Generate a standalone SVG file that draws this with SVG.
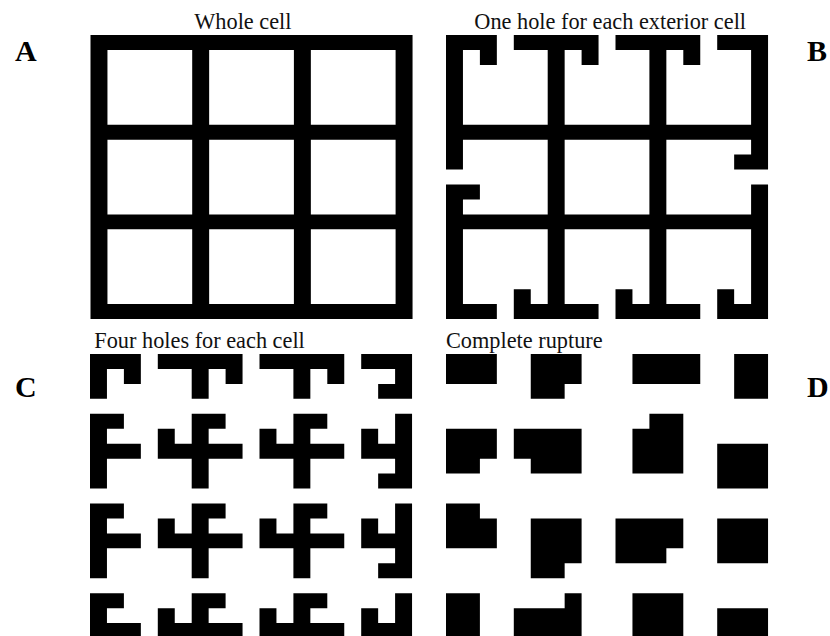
<svg xmlns="http://www.w3.org/2000/svg" width="830" height="636" viewBox="0 0 830 636">
<style>
.t{font-family:"Liberation Serif","Times New Roman",serif;font-size:22.3px;fill:#111}
.l{font-family:"Liberation Serif","Times New Roman",serif;font-size:30px;font-weight:bold;fill:#000}
.s{fill:#000}
</style>
<rect width="830" height="636" fill="#fff"/>

<g id="labels">
<text class="l" x="15" y="61">A</text>
<text class="l" x="807" y="61">B</text>
<text class="l" x="15" y="397">C</text>
<text class="l" x="807" y="397">D</text>
</g>

<g id="titles">
<text class="t" x="194.3" y="29.3">Whole cell</text>
<text class="t" x="474.3" y="29.3">One hole for each exterior cell</text>
<text class="t" x="94.3" y="347.7">Four holes for each cell</text>
<text class="t" x="446" y="347.7">Complete rupture</text>
</g>

<g id="panelA" transform="translate(90.5,35) scale(16.95,14.95)">
<path class="s" fill-rule="evenodd" d="M0 0H19V19H0Z M1 1H6V6H1Z M7 1H12V6H7Z M13 1H18V6H13Z M1 7H6V12H1Z M7 7H12V12H7Z M13 7H18V12H13Z M1 13H6V18H1Z M7 13H12V18H7Z M13 13H18V18H13Z"/>
</g>

<g id="panelB" transform="translate(446,35) scale(16.95,14.95)">
<path class="s" d="M0 0h3v1h-3z M4 0h5v1h-5z M10 0h5v1h-5z M16 0h3v1h-3z
M0 18h3v1h-3z M4 18h5v1h-5z M10 18h5v1h-5z M16 18h3v1h-3z
M0 0h1v9h-1z M0 10h1v9h-1z M18 0h1v9h-1z M18 10h1v9h-1z
M6 0h1v19h-1z M12 0h1v19h-1z M0 6h19v1h-19z M0 12h19v1h-19z
M2 1h1v1h-1z M8 1h1v1h-1z M14 1h1v1h-1z M4 17h1v1h-1z M10 17h1v1h-1z M16 17h1v1h-1z M1 10h1v1h-1z M17 8h1v1h-1z"/>
</g>

<g id="panelC" transform="translate(90,354) scale(16.95,14.95)">
<path class="s" d="M0 0h3v1h-3z M4 0h5v1h-5z M10 0h5v1h-5z M16 0h3v1h-3z
M0 6h3v1h-3z M4 6h5v1h-5z M10 6h5v1h-5z M16 6h3v1h-3z
M0 12h3v1h-3z M4 12h5v1h-5z M10 12h5v1h-5z M16 12h3v1h-3z
M0 18h3v1h-3z M4 18h5v1h-5z M10 18h5v1h-5z M16 18h3v1h-3z
M0 0h1v3h-1z M0 4h1v5h-1z M0 10h1v5h-1z M0 16h1v3h-1z
M6 0h1v3h-1z M6 4h1v5h-1z M6 10h1v5h-1z M6 16h1v3h-1z
M12 0h1v3h-1z M12 4h1v5h-1z M12 10h1v5h-1z M12 16h1v3h-1z
M18 0h1v3h-1z M18 4h1v5h-1z M18 10h1v5h-1z M18 16h1v3h-1z
M2 1h1v1h-1z M8 1h1v1h-1z M14 1h1v1h-1z
M17 2h1v1h-1z M17 8h1v1h-1z M17 14h1v1h-1z
M1 4h1v1h-1z M1 10h1v1h-1z M1 16h1v1h-1z
M7 4h1v1h-1z M7 10h1v1h-1z M7 16h1v1h-1z
M13 4h1v1h-1z M13 10h1v1h-1z M13 16h1v1h-1z
M4 5h1v1h-1z M10 5h1v1h-1z M16 5h1v1h-1z
M4 11h1v1h-1z M10 11h1v1h-1z M16 11h1v1h-1z
M4 17h1v1h-1z M10 17h1v1h-1z M16 17h1v1h-1z"/>
</g>

<g id="panelD" transform="translate(446,354) scale(16.95,14.95)">
<path id="d1" class="s" d="M0 0h3v2h-3z"/>
<path id="d2" class="s" d="M5 0h3v2h-1v1h-2z"/>
<path id="d3" class="s" d="M11 0h4v2h-4z"/>
<path id="d4" class="s" d="M17 0h2v3h-2z"/>
<path id="d5" class="s" d="M0 5h3v2h-1v1h-2z"/>
<path id="d6" class="s" d="M4 5h4v3h-3v-1h-1z"/>
<path id="d7" class="s" d="M12 4h2v4h-3v-3h1z"/>
<path id="d8" class="s" d="M16 6h3v3h-3z"/>
<path id="d9" class="s" d="M0 10h2v1h1v2h-3z"/>
<path id="d10" class="s" d="M5 11h3v3h-1v1h-2z"/>
<path id="d11" class="s" d="M10 11h4v2h-1v1h-3z"/>
<path id="d12" class="s" d="M16 11h3v3h-3z"/>
<path id="d13" class="s" d="M0 16h2v3h-2z"/>
<path id="d14" class="s" d="M7 16h1v3h-4v-2h3z"/>
<path id="d15" class="s" d="M11 16h3v3h-3z"/>
<path id="d16" class="s" d="M16 17h3v2h-3z"/>
</g>
</svg>
